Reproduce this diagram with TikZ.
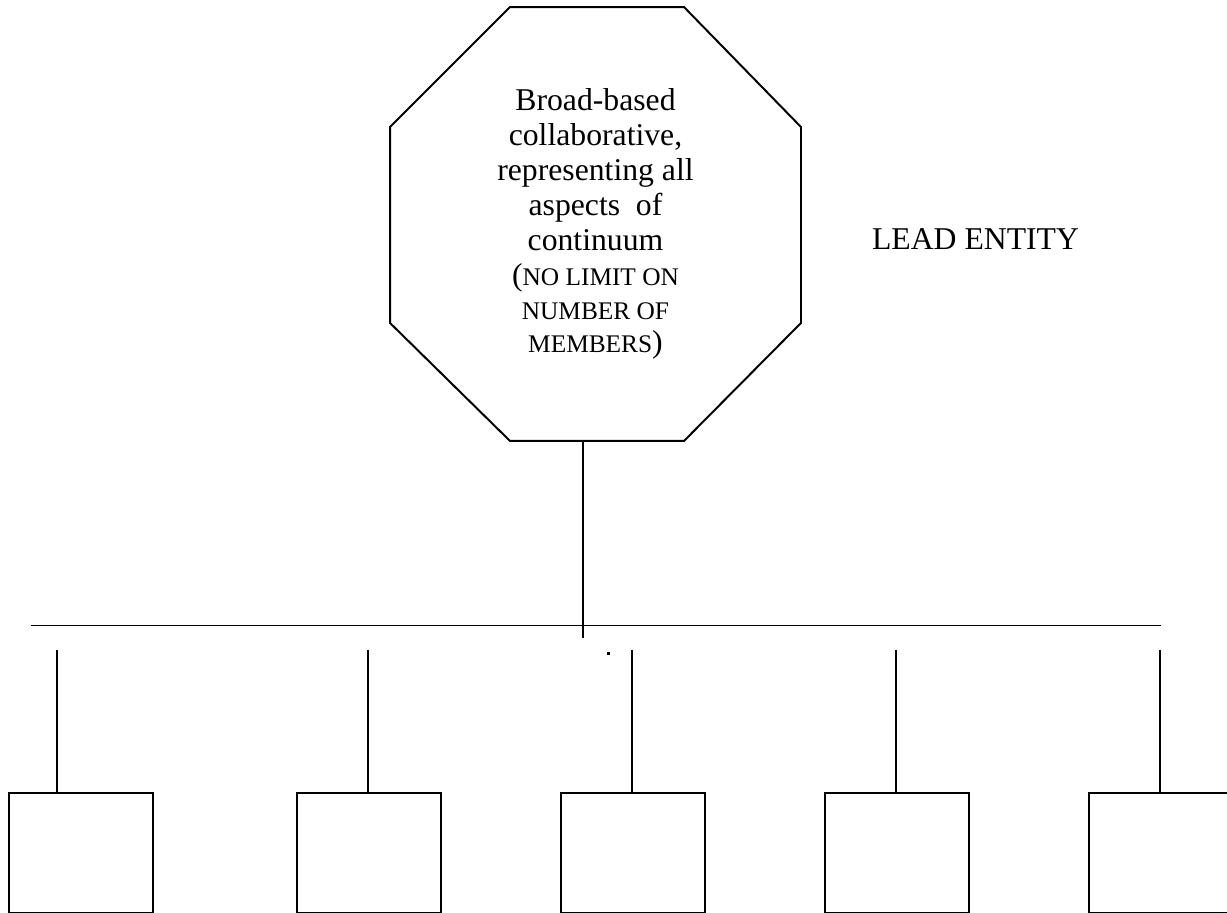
\documentclass[tikz,border=0pt]{standalone}
\usepackage{fontspec}
\setmainfont{Liberation Serif}
\usepackage{tikz}
\usetikzlibrary{calc}
\newcommand{\smallcap}[1]{{\fontsize{9.6}{12}\selectfont #1}}

\begin{document}
\begin{tikzpicture}[x=0.3785pt,y=-0.3785pt,line width=0.75pt,
  leadbox/.style={rectangle,minimum width=154.8pt,minimum height=163.5pt,inner sep=0pt,align=center,font=\fontsize{12}{13.25}\selectfont},
  memberbox/.style={rectangle,draw,minimum width=54.5pt,minimum height=45.4pt,inner sep=0pt,anchor=north west},
  lbl/.style={font=\fontsize{12}{14}\selectfont,inner sep=0pt}
]
\useasboundingbox (0,0) rectangle (1227,913);
\node[leadbox] (lead) at (595.5,224) {Broad-based\\collaborative,\\representing all\\aspects\ \ of\\continuum\\(\smallcap{NO LIMIT ON}\\[-0.6pt]\smallcap{NUMBER OF}\\[-0.6pt]\smallcap{MEMBERS})};
\draw ($(lead.north west)+(120,0)$) -- ($(lead.north east)+(-117,0)$)
  -- ($(lead.north east)+(0,120)$) -- ($(lead.south east)+(0,-118)$)
  -- ($(lead.south east)+(-117,0)$) -- ($(lead.south west)+(120,0)$)
  -- ($(lead.south west)+(0,-118)$) -- ($(lead.north west)+(0,120)$) -- cycle;
\node[lbl] (entity) at (975.5,239) {LEAD ENTITY};
% stem and bus
\coordinate (stem) at ($(lead.south)+(-12.5,0)$);
\coordinate (stemend) at (583,638);
\coordinate (busL) at (31,625.5);
\coordinate (busR) at (1161,625.5);
\draw (stem) -- (stemend);
\draw (busL) -- (busR);
\fill (606.5,652.5) rectangle (609.5,655.5);
% member boxes
\foreach \i/\bx/\lx in {1/8/57,2/296/368,3/560/632,4/824/896,5/1088/1160}{
  \node[memberbox] (box\i) at (\bx,792) {};
  \coordinate (drop\i) at (\lx,650);
  \draw (drop\i) -- (drop\i |- box\i.north);
}
\end{tikzpicture}
\end{document}
